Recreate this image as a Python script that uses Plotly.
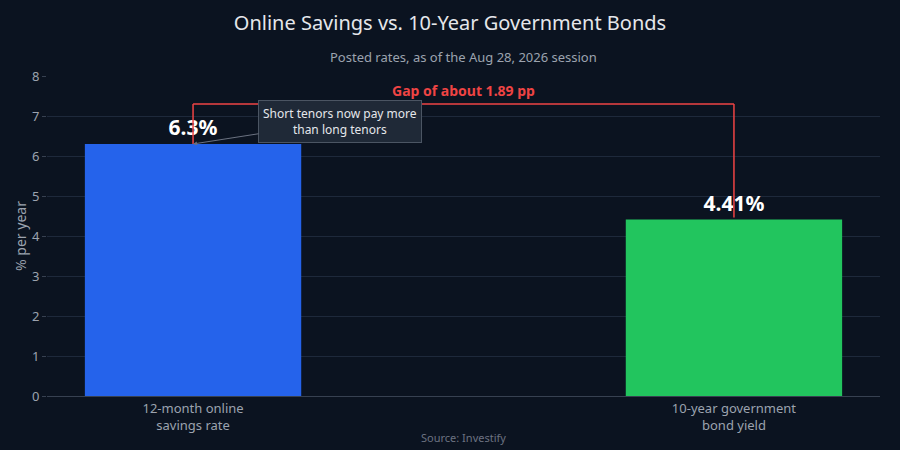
import plotly.graph_objects as go

categories = ["12-month online<br>savings rate", "10-year government<br>bond yield"]
values = [6.3, 4.41]
labels = ["<b>6.3%</b>", "<b>4.41%</b>"]
colors = ["#2563eb", "#22c55e"]
gap = round(values[0] - values[1], 2)
bracket_y = 7.3

fig = go.Figure(go.Bar(
    x=[0, 1], y=values, marker=dict(color=colors, line=dict(width=0)),
    text=labels, textposition="outside", width=0.40,
    textfont=dict(size=21, color="white", family="Noto Sans"),
    cliponaxis=False, hoverinfo="skip",
))

line = dict(color="#ef4444", width=1.5)
fig.add_shape(type="line", x0=0, x1=0, y0=values[0], y1=bracket_y, line=line)
fig.add_shape(type="line", x0=0, x1=1, y0=bracket_y, y1=bracket_y, line=line)
fig.add_shape(type="line", x0=1, x1=1, y0=values[1] + 0.05, y1=bracket_y, line=line)
fig.add_annotation(x=0.5, y=bracket_y, text=f"<b>Gap of about {gap} pp</b>", showarrow=False,
                   yshift=14, font=dict(size=14, color="#ef4444"))
fig.add_annotation(x=0, y=values[0], text="Short tenors now pay more<br>than long tenors",
                   showarrow=True, arrowhead=2, arrowsize=0.8, arrowwidth=1, arrowcolor="#6b7280",
                   ax=147, ay=-23, font=dict(size=12, color="#e5e7eb"),
                   bgcolor="#1f2937", bordercolor="#4b5563", borderwidth=1, borderpad=4)
fig.add_annotation(x=0.5, y=0, xref="paper", yref="paper", text="Source: Investify",
                   showarrow=False, yanchor="top", yshift=-32, font=dict(size=11, color="#6b7280"))

fig.update_layout(
    width=900, height=450,
    paper_bgcolor="#0b1320", plot_bgcolor="#0b1320",
    font=dict(family="Noto Sans", color="#9ca3af"),
    title=dict(text="Online Savings vs. 10-Year Government Bonds", x=0.5, y=0.95,
               yanchor="middle", font=dict(size=20, color="#e5e7eb")),
    margin=dict(l=47, r=20, t=76, b=54),
    showlegend=False,
)
fig.add_annotation(x=0.5, y=1, xref="paper", yref="paper", yanchor="bottom", yshift=8,
                   text="Posted rates, as of the Aug 28, 2026 session", showarrow=False,
                   font=dict(size=13, color="#9ca3af"))
fig.update_xaxes(tickvals=[0, 1], ticktext=categories, range=[-0.27, 1.27],
                 tickfont=dict(size=13, color="#9ca3af"), showgrid=False,
                 showline=True, linecolor="#374151")
fig.update_yaxes(range=[0, 8], dtick=1, gridcolor="#1e293b", zeroline=False,
                 title=dict(text="% per year", font=dict(size=14), standoff=2), ticks="outside",
                 ticklen=4, tickcolor="#374151", tickfont=dict(size=13))
fig.write_html("out.html", config={"displayModeBar": False},
               post_script="document.body.style.margin='0';")
